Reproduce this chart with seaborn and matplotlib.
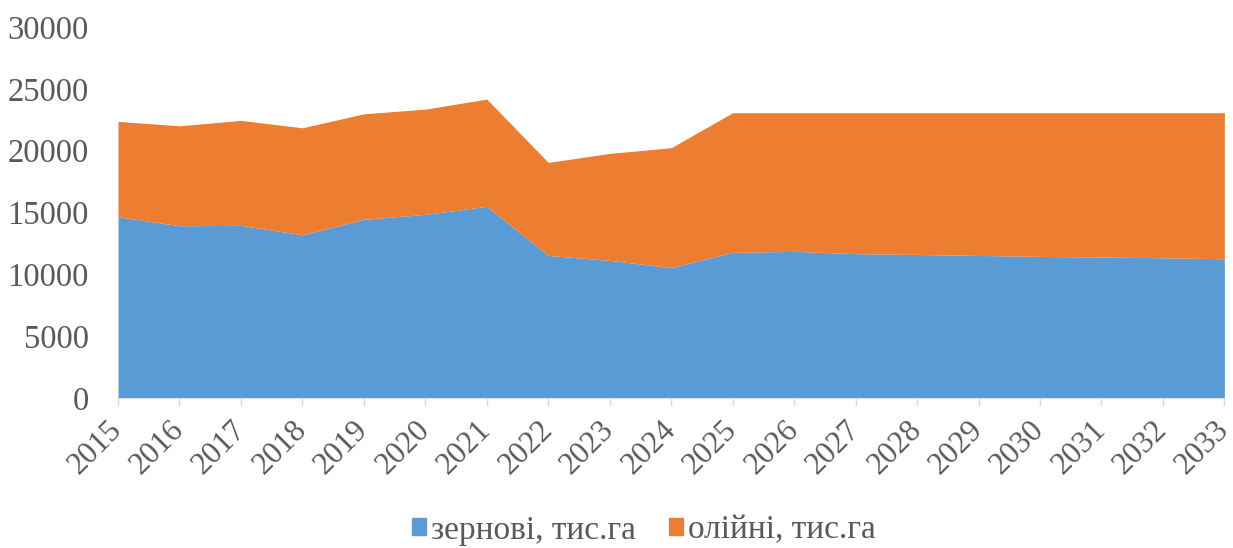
import numpy as np
import seaborn as sns
import matplotlib.pyplot as plt
from matplotlib.patches import Patch

# values, thousand ha
years = [2015, 2016, 2017, 2018, 2019, 2020, 2021, 2022, 2023, 2024,
         2025, 2026, 2027, 2028, 2029, 2030, 2031, 2032, 2033]
grain = [14660, 13930, 13960, 13200, 14450, 14850, 15500, 11530, 11130, 10540,
         11780, 11860, 11670, 11610, 11530, 11450, 11400, 11340, 11260]
total = [22370, 22010, 22450, 21850, 22980, 23360, 24170, 19050, 19780, 20240,
         23070, 23070, 23070, 23070, 23070, 23070, 23070, 23070, 23070]
oil = [t - g for t, g in zip(total, grain)]

labels = ['зернові, тис.га', 'олійні, тис.га']
colors = ['#5B9BD5', '#ED7D31']

sns.set_style('white')
plt.rcParams['font.family'] = ['Liberation Serif', 'DejaVu Serif']

fig = plt.figure(figsize=(12.33, 5.48), dpi=100)
ax = fig.add_axes([0.0957, 0.2737, 0.8973, 0.677])

ax.stackplot(years, grain, oil, colors=colors, linewidth=0)

ax.set_xlim(years[0], years[-1])
ax.set_ylim(0, 30000)
ax.set_yticks(range(0, 30001, 5000))
ax.set_xticks(years)
ax.set_xticklabels([str(y) for y in years], rotation=45, ha='right',
                   va='center', rotation_mode='anchor')
ax.tick_params(axis='y', labelsize=23.5, colors='#595959', length=0, pad=21)
ax.tick_params(axis='x', labelsize=22.5, colors='#595959', length=6,
               color='#D9D9D9', width=1, direction='out', bottom=True, pad=14)
for s in ['top', 'right', 'left']:
    ax.spines[s].set_visible(False)
ax.spines['bottom'].set_color('#D9D9D9')

handles = [Patch(color=c, label=l) for c, l in zip(colors, labels)]
leg = fig.legend(handles=handles, loc='center', bbox_to_anchor=(0.522, 0.032),
                 ncol=2, frameon=False, fontsize=24, handlelength=0.42,
                 handleheight=0.42, handletextpad=0.15, columnspacing=1.0)
for t in leg.get_texts():
    t.set_color('#595959')

fig.savefig('out.png', dpi=100)
